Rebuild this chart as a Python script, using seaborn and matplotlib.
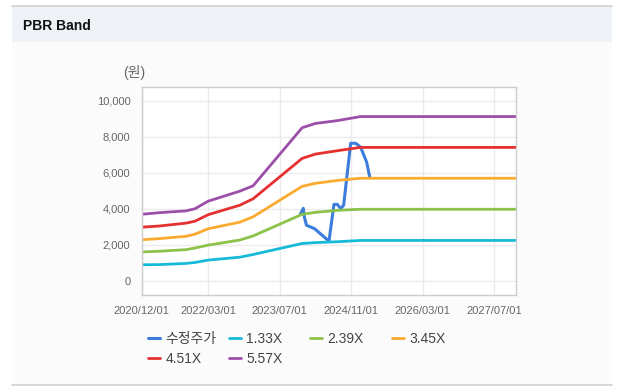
import numpy as np
import pandas as pd
import seaborn as sns
import matplotlib
matplotlib.use("Agg")
import matplotlib.pyplot as plt
import matplotlib.dates as mdates
from matplotlib.patches import Rectangle
from matplotlib.lines import Line2D

# band knots (PBR band lines)
band_dates = ['2020-12-01', '2021-04-01', '2021-10-01', '2021-12-01', '2022-03-01', '2022-10-01',
              '2023-01-01', '2023-12-01', '2024-03-01', '2024-08-01', '2025-01-01', '2027-12-01']
band_133 = [900, 910, 975, 1030, 1160, 1320, 1470, 2080, 2130, 2180, 2250, 2250]
band_239 = [1610, 1650, 1740, 1830, 1990, 2270, 2500, 3700, 3810, 3920, 3980, 3980]
band_345 = [2290, 2350, 2480, 2600, 2900, 3260, 3560, 5250, 5420, 5580, 5700, 5700]
band_451 = [2985, 3050, 3210, 3320, 3680, 4200, 4560, 6800, 7040, 7230, 7410, 7410]
band_557 = [3700, 3790, 3890, 4010, 4430, 4980, 5280, 8500, 8740, 8900, 9120, 9120]

# adjusted price
price_dates = ['2023-11-20', '2023-12-09', '2023-12-17', '2023-12-31', '2024-02-24', '2024-06-01',
               '2024-07-05', '2024-07-28', '2024-08-20', '2024-09-09', '2024-10-27', '2024-11-30',
               '2025-01-03', '2025-02-13', '2025-03-06']
price = [3720, 4030, 3520, 3090, 2900, 2210, 4250, 4250, 4015, 4200, 7640, 7640, 7420, 6590, 5760]

labels = ['수정주가', '1.33X', '2.39X', '3.45X', '4.51X', '5.57X']
colors = ['#3b7ddd', '#17b9d9', '#8bc34a', '#fbaa30', '#e53030', '#9c4fa8']
xticks = ['2020-12-01', '2022-03-01', '2023-07-01', '2024-11-01', '2026-03-01', '2027-07-01']
yticks = [0, 2000, 4000, 6000, 8000, 10000]

sns.set_style("white")
plt.rcParams['font.family'] = ['Liberation Sans', 'Noto Sans CJK KR', 'DejaVu Sans']

W, H = 620, 392
fig = plt.figure(figsize=(W / 100, H / 100), dpi=100, facecolor='white')

def fx(px):
    return px / W

def fy(py):
    return 1 - py / H

# panel background, header and borders
fig.patches.append(Rectangle((fx(12), fy(385)), fx(600), (385 - 42) / H, transform=fig.transFigure,
                             facecolor='#fbfbfb', edgecolor='none', zorder=-2))
fig.patches.append(Rectangle((fx(12), fy(42)), fx(600), 36 / H, transform=fig.transFigure,
                             facecolor='#eef2f7', edgecolor='none', zorder=-2))
fig.lines.append(Line2D([fx(12), fx(612)], [fy(6), fy(6)], transform=fig.transFigure, color='#d0d0d0', lw=1.2))
fig.lines.append(Line2D([fx(12), fx(612)], [fy(385), fy(385)], transform=fig.transFigure, color='#d0d0d0', lw=1.2))
fig.text(fx(23), fy(25.5), 'PBR Band', fontsize=10, fontweight='bold', color='#111111', va='center', ha='left')

ax = fig.add_axes([fx(141.5), fy(295), fx(516 - 141.5), (295 - 87) / H])
ax.set_zorder(1)
ax.set_facecolor('white')

bands = pd.DataFrame({'date': pd.to_datetime(band_dates), labels[1]: band_133, labels[2]: band_239,
                      labels[3]: band_345, labels[4]: band_451, labels[5]: band_557})
pr = pd.DataFrame({'date': pd.to_datetime(price_dates), 'value': price})

sns.lineplot(data=pr, x='date', y='value', color=colors[0], lw=2.2, label=labels[0], legend=False, ax=ax)
for lab, col in zip(labels[1:], colors[1:]):
    sns.lineplot(data=bands, x='date', y=lab, color=col, lw=2.0, label=lab, legend=False, ax=ax)

ax.set_xlim(pd.Timestamp('2020-12-01'), pd.Timestamp('2027-11-28'))
ax.set_ylim(-776, 10760)
ax.set_xticks(pd.to_datetime(xticks))
ax.xaxis.set_major_formatter(mdates.DateFormatter('%Y/%m/%d'))
ax.set_yticks(yticks)
ax.set_yticklabels([f'{v:,}' for v in yticks])
ax.set_xlabel('')
ax.set_ylabel('')
ax.grid(True, color='#ebebeb', lw=1)
ax.tick_params(axis='both', length=5, width=1, color='#dddddd', labelsize=8, labelcolor='#666666', pad=3)
for s in ax.spines.values():
    s.set_color('#cccccc')
    s.set_linewidth(1)
    s.set_visible(True)

fig.text(fx(134), fy(73), '(원)', fontsize=10, color='#666666', ha='center', va='center')

# legend: fixed columns
handles, labs = ax.get_legend_handles_labels()
hmap = dict(zip(labs, handles))
cols = [(148, ['수정주가', '4.51X']), (229, ['1.33X', '5.57X']), (310, ['2.39X']), (392, ['3.45X'])]
for x0, names in cols:
    lg = fig.legend([hmap[n] for n in names], names, loc='upper left',
                    bbox_to_anchor=(fx(x0), fy(332)), frameon=False, borderpad=0, borderaxespad=0,
                    handlelength=0.85, handletextpad=0.4, labelspacing=0.45, fontsize=10, labelcolor='#444444')

fig.savefig('out.png', dpi=100, facecolor='white')
